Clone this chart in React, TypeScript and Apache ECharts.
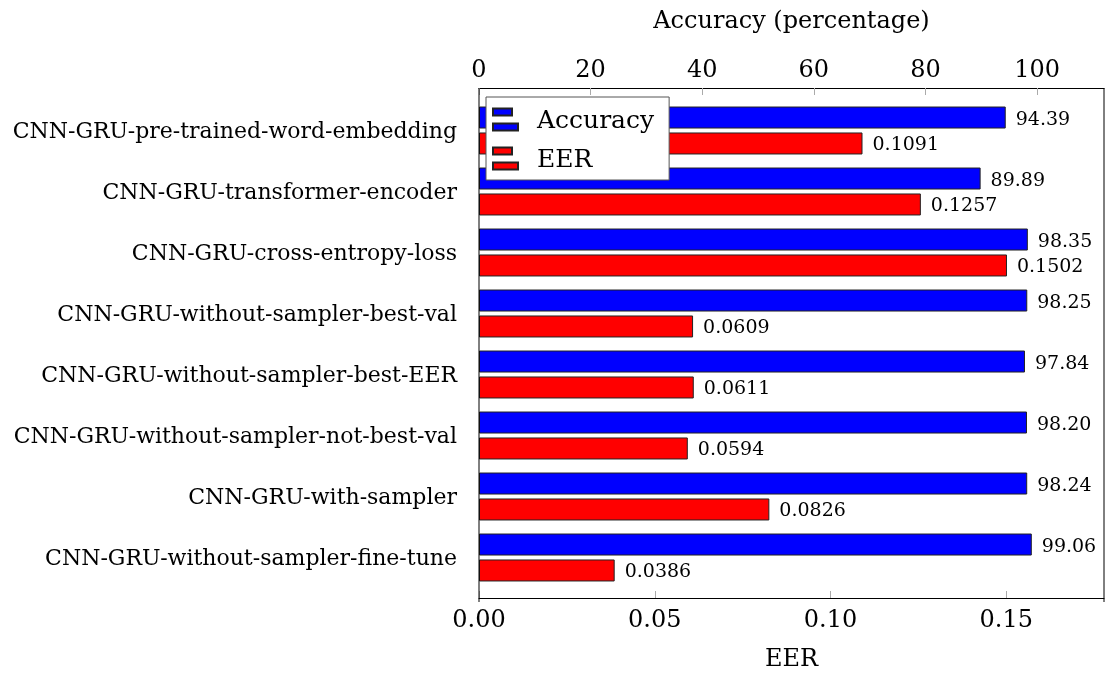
import React, { useEffect, useRef } from "react";
import * as echarts from "echarts";

const categories = [
  "CNN-GRU-pre-trained-word-embedding",
  "CNN-GRU-transformer-encoder",
  "CNN-GRU-cross-entropy-loss",
  "CNN-GRU-without-sampler-best-val",
  "CNN-GRU-without-sampler-best-EER",
  "CNN-GRU-without-sampler-not-best-val",
  "CNN-GRU-with-sampler",
  "CNN-GRU-without-sampler-fine-tune",
];
const accuracy = [94.39, 89.89, 98.35, 98.25, 97.84, 98.2, 98.24, 99.06];
const eer = [0.1091, 0.1257, 0.1502, 0.0609, 0.0611, 0.0594, 0.0826, 0.0386];
const accTicks = { min: 0, max: 112, interval: 20 };
const eerTicks = { min: 0, max: 0.1778, interval: 0.05 };

const FONT = "DejaVu Serif";
const PL = 479, PR = 1104, PT = 88, PB = 602;

export default function App() {
  const ref = useRef<HTMLDivElement>(null);
  useEffect(() => {
    const chart = echarts.init(ref.current!, null, { renderer: "svg" });
    const icon = "path://M0,0 H19 V7 H0 Z M0,15 H25 V22 H0 Z";
    chart.setOption({
      animation: false,
      textStyle: { fontFamily: FONT, color: "#000" },
      grid: { left: PL, right: 1106 - PR, top: 100, bottom: 675 - 592 },
      legend: {
        orient: "vertical",
        left: 486,
        top: 97,
        padding: [10, 15, 9, 6],
        itemGap: 14,
        itemWidth: 25,
        itemHeight: 22,
        backgroundColor: "#fff",
        borderColor: "#555",
        borderWidth: 1,
        textStyle: { fontFamily: FONT, fontSize: 25, color: "#000", padding: [0, 0, 0, 14] },
        data: [
          { name: "Accuracy", icon },
          { name: "EER", icon },
        ],
      },
      xAxis: [
        {
          type: "value",
          position: "top",
          offset: 100 - PT,
          ...accTicks,
          name: "Accuracy (percentage)",
          nameLocation: "middle",
          nameGap: 56,
          nameTextStyle: { fontFamily: FONT, fontSize: 24, color: "#000" },
          axisLine: { show: true, lineStyle: { color: "#000", width: 1 } },
          axisTick: { show: true, inside: true, length: 7, lineStyle: { color: "#aaa" } },
          axisLabel: { fontFamily: FONT, fontSize: 24, color: "#000", margin: 7, showMaxLabel: false },
          splitLine: { show: false },
        },
        {
          type: "value",
          position: "bottom",
          offset: PB - 592,
          ...eerTicks,
          name: "EER",
          nameLocation: "middle",
          nameGap: 48,
          nameTextStyle: { fontFamily: FONT, fontSize: 24, color: "#000" },
          axisLine: { show: true, lineStyle: { color: "#000", width: 1 } },
          axisTick: { show: true, inside: true, length: 7, lineStyle: { color: "#aaa" } },
          axisLabel: {
            fontFamily: FONT,
            fontSize: 24,
            color: "#000",
            margin: 9,
            showMaxLabel: false,
            formatter: (v: number) => v.toFixed(2),
          },
          splitLine: { show: false },
        },
      ],
      yAxis: {
        type: "category",
        inverse: true,
        data: categories,
        axisLine: { show: false },
        axisTick: { show: false },
        axisLabel: { fontFamily: FONT, fontSize: 22, color: "#000", margin: 22 },
      },
      series: [
        {
          name: "Accuracy",
          type: "bar",
          xAxisIndex: 0,
          data: accuracy,
          barWidth: 22,
          barGap: "18%",
          itemStyle: { color: "#0000ff", borderColor: "#222", borderWidth: 1 },
          label: {
            show: true,
            position: "right",
            distance: 10,
            fontFamily: FONT,
            fontSize: 19,
            color: "#000",
            formatter: (p: any) => Number(p.value).toFixed(2),
          },
        },
        {
          name: "EER",
          type: "bar",
          xAxisIndex: 1,
          data: eer,
          barWidth: 22,
          barGap: "18%",
          itemStyle: { color: "#ff0000", borderColor: "#222", borderWidth: 1 },
          label: {
            show: true,
            position: "right",
            distance: 10,
            fontFamily: FONT,
            fontSize: 19,
            color: "#000",
            formatter: (p: any) => Number(p.value).toFixed(4),
          },
        },
      ],
      graphic: [
        { type: "line", silent: true, z: 100, shape: { x1: PL, y1: PT, x2: PL, y2: PB }, style: { stroke: "#000", lineWidth: 1 } },
        { type: "line", silent: true, z: 100, shape: { x1: PR, y1: PT, x2: PR, y2: PB }, style: { stroke: "#000", lineWidth: 1 } },
      ],
    });
    return () => chart.dispose();
  }, []);
  return <div ref={ref} style={{ position: "fixed", left: 0, top: 0, width: 1106, height: 675 }} />;
}
